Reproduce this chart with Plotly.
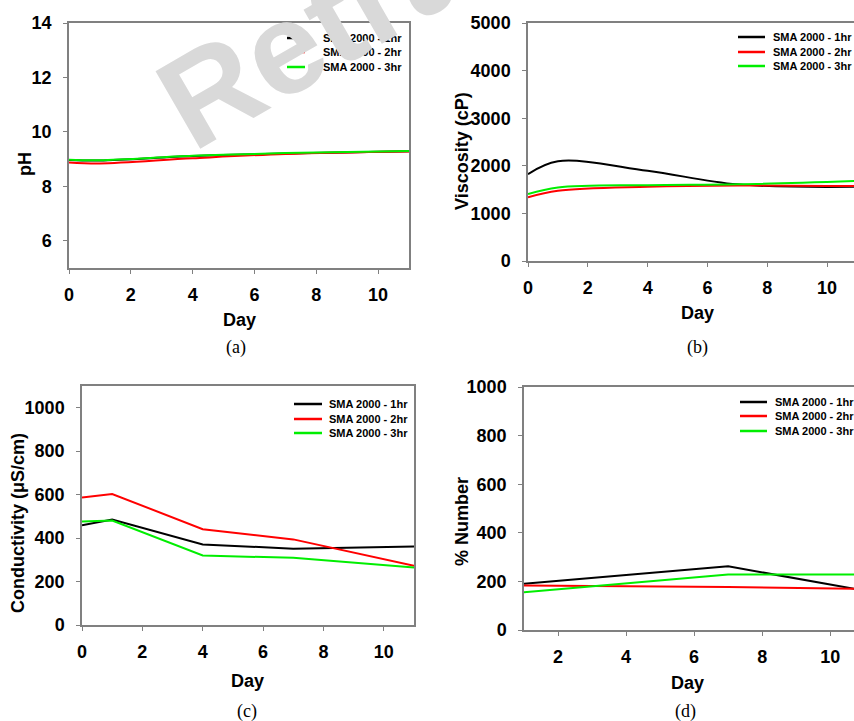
import plotly.graph_objects as go

W, H = 854, 721

series_names = ["SMA 2000 - 1hr", "SMA 2000 - 2hr", "SMA 2000 - 3hr"]
series_colors = ["#000000", "#ff0000", "#00ee00"]

# (a) pH
ph_days = [0, 1, 4, 7, 11]
ph_1hr = [8.97, 8.95, 9.11, 9.21, 9.29]
ph_2hr = [8.88, 8.84, 9.03, 9.19, 9.28]
ph_3hr = [8.98, 8.96, 9.12, 9.22, 9.30]

# (b) Viscosity
vis_days = [0, 1, 4, 7, 11]
vis_1hr = [1825, 2095, 1895, 1610, 1560]
vis_2hr = [1336, 1475, 1560, 1587, 1573]
vis_3hr = [1406, 1545, 1594, 1612, 1685]

# (c) Conductivity
con_days = [0, 1, 4, 7, 11]
con_1hr = [459, 485, 371, 351, 361]
con_2hr = [587, 603, 441, 394, 273]
con_3hr = [476, 481, 320, 309, 265]

# (d) % Number
num_days = [1, 7, 11]
num_1hr = [190, 262, 162]
num_2hr = [183, 177, 169]
num_3hr = [155, 228, 228]

def px(x):
    return x / W

def py(y):
    return 1 - y / H

FONT = "Arial, Liberation Sans, sans-serif"
AXC = "#808080"

fig = go.Figure()

panels = [
    dict(ax="", days=ph_days, data=[ph_1hr, ph_2hr, ph_3hr], shape="spline",
         xd=(69, 409), yd=(23, 268), xr=[0, 11], yr=[5, 14], ytv=[6, 8, 10, 12, 14],
         xtv=[0, 2, 4, 6, 8, 10], mirror_y=True,
         ytitle="pH", ytpos=(25, 164), xtpos=(240, 320), cap="(a)", cappos=(236, 347),
         leg_rows=[38, 52, 67], leg_line=(287, 305), leg_text=321),
    dict(ax="2", days=vis_days, data=[vis_1hr, vis_2hr, vis_3hr], shape="spline",
         xd=(528, 854), yd=(23, 261), xr=[0, 10.9], yr=[0, 5000],
         ytv=[0, 1000, 2000, 3000, 4000, 5000], xtv=[0, 2, 4, 6, 8, 10], mirror_y=False,
         ytitle="Viscosity (cP)", ytpos=(462, 151), xtpos=(697, 313), cap="(b)", cappos=(697, 347),
         leg_rows=[37, 52, 66], leg_line=(738, 765), leg_text=771),
    dict(ax="3", days=con_days, data=[con_1hr, con_2hr, con_3hr], shape="linear",
         xd=(82, 414), yd=(386, 625), xr=[0, 11], yr=[0, 1100],
         ytv=[0, 200, 400, 600, 800, 1000], xtv=[0, 2, 4, 6, 8, 10], mirror_y=True,
         ytitle="Conductivity (μS/cm)", ytpos=(18, 523), xtpos=(247, 681), cap="(c)", cappos=(247, 711),
         leg_rows=[404, 419, 433], leg_line=(294, 322), leg_text=327),
    dict(ax="4", days=num_days, data=[num_1hr, num_2hr, num_3hr], shape="linear",
         xd=(524, 854), yd=(387, 630), xr=[1, 10.7], yr=[0, 1000],
         ytv=[0, 200, 400, 600, 800, 1000], xtv=[2, 4, 6, 8, 10], mirror_y=False,
         ytitle="% Number", ytpos=(462, 522), xtpos=(687, 683), cap="(d)", cappos=(685, 711),
         leg_rows=[402, 416, 431], leg_line=(740, 767), leg_text=773),
]

annotations = []
shapes = []
layout_axes = {}

for p in panels:
    ax = p["ax"]
    for vals, name, col in zip(p["data"], series_names, series_colors):
        fig.add_trace(go.Scatter(
            x=p["days"], y=vals, mode="lines", name=name,
            line=dict(color=col, width=2, shape=p["shape"], smoothing=1.0),
            xaxis="x" + ax, yaxis="y" + ax, showlegend=False,
        ))
    xkey = "xaxis" + ax
    ykey = "yaxis" + ax
    layout_axes[xkey] = dict(
        domain=[px(p["xd"][0]), px(p["xd"][1])], range=p["xr"], anchor="y" + ax,
        showgrid=False, zeroline=False, showline=True, linecolor=AXC, linewidth=1.5,
        mirror=True, ticks="outside", ticklen=4, tickcolor=AXC, tickwidth=1.2,
        tickvals=p["xtv"], ticklabelstandoff=6,
        tickfont=dict(family=FONT, size=18, color="black", weight="bold"),
    )
    layout_axes[ykey] = dict(
        domain=[py(p["yd"][1]), py(p["yd"][0])], range=p["yr"], anchor="x" + ax,
        showgrid=False, zeroline=False, showline=True, linecolor=AXC, linewidth=1.5,
        mirror=p["mirror_y"], ticks="outside", ticklen=4, tickcolor=AXC, tickwidth=1.2,
        tickvals=p["ytv"], ticklabelstandoff=8,
        tickfont=dict(family=FONT, size=18, color="black", weight="bold"),
    )
    annotations.append(dict(
        text="<b>" + p["ytitle"] + "</b>", x=px(p["ytpos"][0]), y=py(p["ytpos"][1]),
        xref="paper", yref="paper", showarrow=False, textangle=-90,
        font=dict(family=FONT, size=18, color="black"), xanchor="center", yanchor="middle"))
    annotations.append(dict(
        text="<b>Day</b>", x=px(p["xtpos"][0]), y=py(p["xtpos"][1]),
        xref="paper", yref="paper", showarrow=False,
        font=dict(family=FONT, size=18, color="black"), xanchor="center", yanchor="middle"))
    annotations.append(dict(
        text=p["cap"], x=px(p["cappos"][0]), y=py(p["cappos"][1]),
        xref="paper", yref="paper", showarrow=False,
        font=dict(family="Liberation Serif, Times New Roman, serif", size=18, color="black"),
        xanchor="center", yanchor="middle"))
    for row, name, col in zip(p["leg_rows"], series_names, series_colors):
        shapes.append(dict(type="line", xref="paper", yref="paper",
                           x0=px(p["leg_line"][0]), x1=px(p["leg_line"][1]),
                           y0=py(row), y1=py(row), line=dict(color=col, width=2.5)))
        annotations.append(dict(
            text="<b>" + name + "</b>", x=px(p["leg_text"]), y=py(row),
            xref="paper", yref="paper", showarrow=False,
            font=dict(family=FONT, size=11, color="black"), xanchor="left", yanchor="middle"))

# watermark
annotations.append(dict(
    text="<b>Retracted</b>", x=px(430), y=py(-36), xref="paper", yref="paper", showarrow=False,
    textangle=-30, font=dict(family=FONT, size=130, color="#d9d9d9"),
    xanchor="center", yanchor="middle"))

fig.update_layout(
    width=W, height=H, margin=dict(l=0, r=0, t=0, b=0, autoexpand=False),
    paper_bgcolor="white", plot_bgcolor="white",
    annotations=annotations, shapes=shapes, **layout_axes,
)

fig.write_html(
    "out.html",
    config={"displayModeBar": False},
    post_script=(
        "document.body.style.margin='0';"
        "document.body.style.overflow='hidden';"
        "document.documentElement.style.overflow='hidden';"
    ),
)
